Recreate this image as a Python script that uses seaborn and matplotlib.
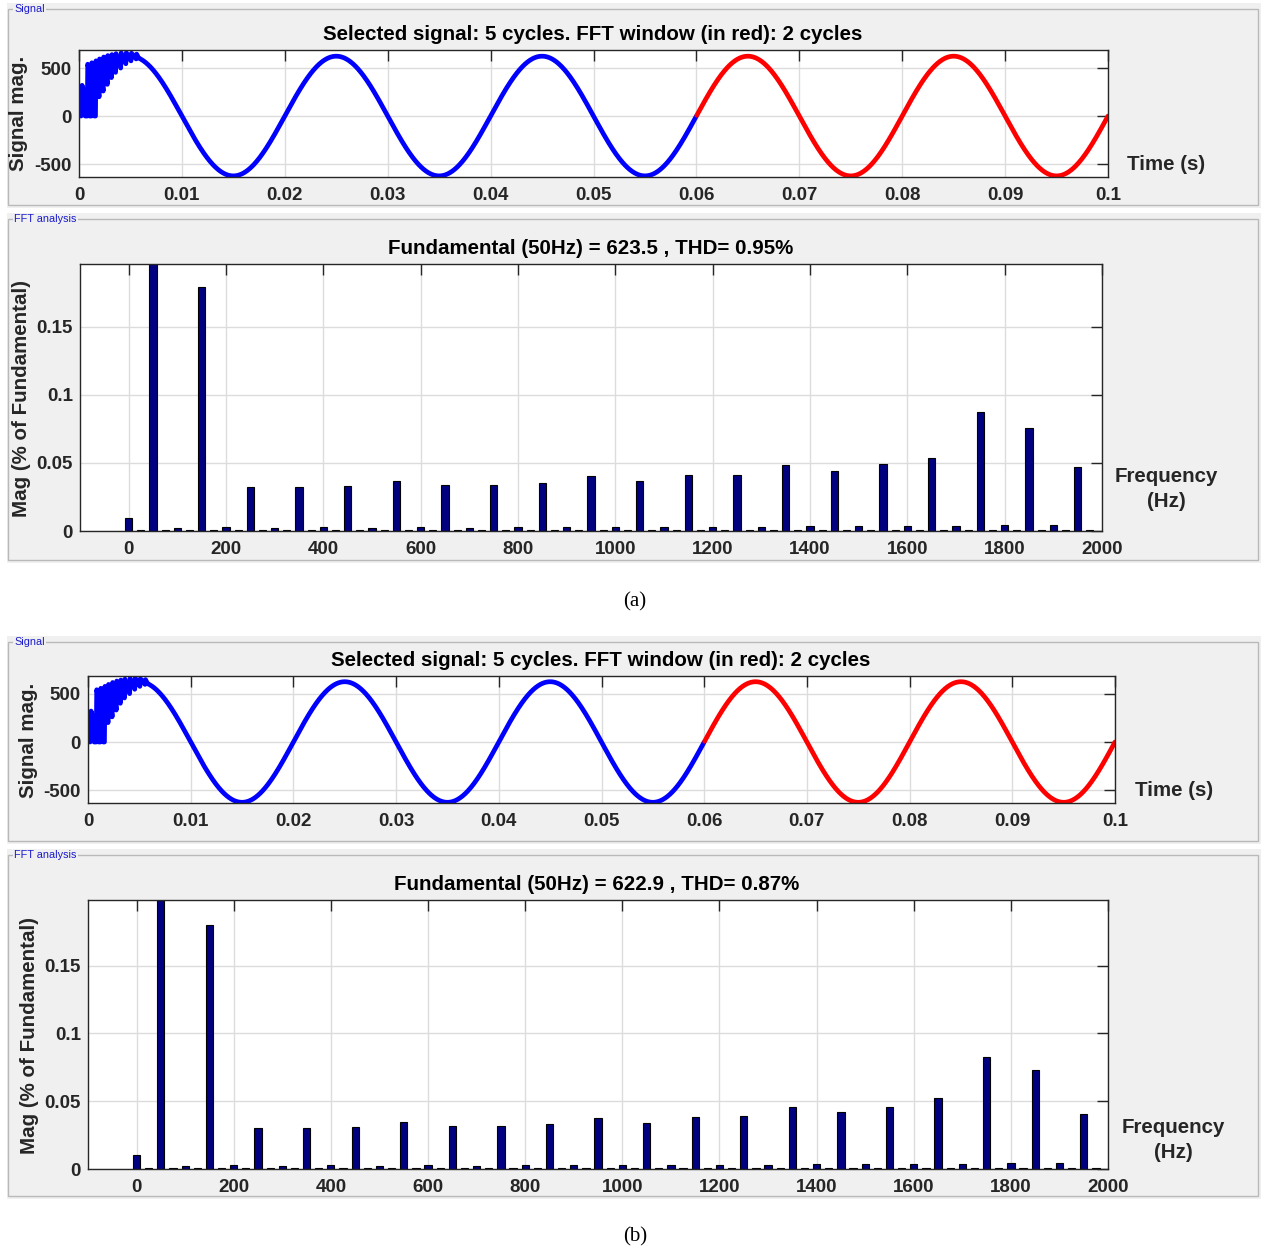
import numpy as np
import pandas as pd
import matplotlib
matplotlib.use("Agg")
import matplotlib.pyplot as plt
from matplotlib.patches import Rectangle
import seaborn as sns

# ---------------- data ----------------
W, H = 1261, 1249

f0 = 50.0
fund_a = 623.5
fund_b = 622.9
thd_a = 0.95
thd_b = 0.87

# start-up transient, sawtooth vertices (time in ms, value)
trans_t_ms = [0.0, 0.1, 0.2, 0.3, 0.5, 0.6, 0.8, 0.85, 1.0, 1.05, 1.2, 1.25,
              1.45, 1.5, 1.6, 1.65, 1.95, 2.0, 2.35, 2.4, 2.75, 2.8, 3.15, 3.2,
              3.55, 3.6, 4.05, 4.1, 4.55, 4.6, 5.05, 5.1, 5.55, 5.6]
trans_v = [0, 100, 0, 320, 240, 0, 0, 540, 470, 0, 0, 555,
           490, 0, 0, 575, 200, 595, 260, 615, 330, 630, 400, 640,
           455, 650, 500, 658, 545, 660, 575, 655, 595, 645]

sig_xticks = [0, 0.01, 0.02, 0.03, 0.04, 0.05, 0.06, 0.07, 0.08, 0.09, 0.1]
sig_xlabels = ["0", "0.01", "0.02", "0.03", "0.04", "0.05", "0.06", "0.07", "0.08", "0.09", "0.1"]
sig_yticks = [-500, 0, 500]
fft_window_start = 0.06

harm_freq = list(range(0, 2000, 50))
interharm_freq = list(range(25, 2000, 50))
harm_a = [0.0096, 100, 0.0022, 0.179, 0.0028, 0.0325, 0.0024, 0.0325, 0.0028, 0.033,
          0.0024, 0.037, 0.0028, 0.034, 0.0024, 0.034, 0.0028, 0.035, 0.003, 0.0404,
          0.003, 0.0368, 0.003, 0.0412, 0.003, 0.041, 0.0032, 0.0485, 0.0035, 0.0439,
          0.0036, 0.0495, 0.0038, 0.0537, 0.004, 0.087, 0.0044, 0.0755, 0.0044, 0.047]
harm_b = [0.0103, 100, 0.0022, 0.180, 0.0028, 0.030, 0.0024, 0.030, 0.0028, 0.031,
          0.0025, 0.0347, 0.0028, 0.0318, 0.0025, 0.0318, 0.0028, 0.033, 0.0027, 0.038,
          0.0027, 0.034, 0.003, 0.0382, 0.0032, 0.039, 0.0032, 0.0456, 0.0036, 0.0419,
          0.0036, 0.0458, 0.0038, 0.0524, 0.004, 0.0827, 0.0044, 0.0729, 0.0044, 0.0408]
interharm_a = [0.0006, 0.0006, 0.0006, 0.0006, 0.0006, 0.0006, 0.0006, 0.0006, 0.0006, 0.0006,
               0.0006, 0.0006, 0.0006, 0.0006, 0.0006, 0.0006, 0.0006, 0.0006, 0.0006, 0.0006,
               0.0006, 0.0006, 0.0006, 0.0006, 0.0006, 0.0006, 0.0006, 0.0006, 0.0006, 0.0006,
               0.0006, 0.0006, 0.0006, 0.0006, 0.0006, 0.0006, 0.0006, 0.0006, 0.0006, 0.0006]
interharm_b = interharm_a

fft_xticks = [0, 200, 400, 600, 800, 1000, 1200, 1400, 1600, 1800, 2000]
fft_yticks = [0, 0.05, 0.1, 0.15]
fft_ylabels = ["0", "0.05", "0.1", "0.15"]

# ---------------- style ----------------
sns.set_theme(style="white")
plt.rcParams["font.family"] = ["Liberation Sans", "DejaVu Sans"]
plt.rcParams["font.weight"] = "bold"
FS = 13.5      # tick labels
FS_T = 14.8    # titles / axis labels
TICKC = "#262626"
PANEL = "#f0f0f0"


def px_rect(x0, y0, x1, y1):
    return [x0 / W, 1 - y1 / H, (x1 - x0) / W, (y1 - y0) / H]


def fx(x):
    return x / W


def fy(y):
    return 1 - y / H


def build_signal(amp):
    t_tr = np.array(trans_t_ms) / 1000.0
    v_tr = np.array(trans_v, dtype=float)
    t_s = np.linspace(0.0058, 0.1, 2000)
    v_s = amp * np.sin(2 * np.pi * f0 * t_s)
    t = np.concatenate([t_tr, t_s])
    v = np.concatenate([v_tr, v_s])
    return pd.DataFrame({"t": t, "v": v})


def panel(fig, y0, y1, label):
    fig.patches.append(Rectangle((fx(7), fy(y1)), fx(W) - fx(7), fy(y0) - fy(y1),
                                 transform=fig.transFigure, facecolor=PANEL,
                                 edgecolor="none", zorder=-10))
    fig.patches.append(Rectangle((fx(8), fy(y1 - 3)), fx(1258) - fx(8), fy(y0 + 6) - fy(y1 - 3),
                                 transform=fig.transFigure, facecolor="none",
                                 edgecolor="#b9b9b9", lw=1.0, zorder=-9))
    fig.text(fx(14), fy(y0 + 6), label, fontsize=7.8, color="#1a1acc", weight="normal",
             ha="left", va="center",
             bbox=dict(facecolor=PANEL, edgecolor="none", pad=1))


def style_axes(ax):
    ax.set_facecolor("white")
    for s in ax.spines.values():
        s.set_visible(True)
        s.set_color(TICKC)
        s.set_linewidth(1.0)
    ax.grid(True, color="#dcdcdc", lw=1.0)
    ax.set_axisbelow(True)
    ax.tick_params(direction="in", top=True, right=True, length=8, width=1,
                   color=TICKC, labelcolor=TICKC, labelsize=FS)
    ax.tick_params(axis="x", pad=7)
    ax.tick_params(axis="y", pad=5)
    for lab in ax.get_xticklabels() + ax.get_yticklabels():
        lab.set_fontweight("bold")


def signal_axes(fig, rect, amp, ylim, title_xy, ylab_xy, time_xy):
    ax = fig.add_axes(rect)
    df = build_signal(amp)
    blue = df[df["t"] <= fft_window_start]
    red = df[df["t"] >= fft_window_start]
    sns.lineplot(data=blue, x="t", y="v", color="#0000ff", lw=3.4, estimator=None,
                 sort=False, ax=ax)
    sns.lineplot(data=red, x="t", y="v", color="#ff0000", lw=3.4, estimator=None,
                 sort=False, ax=ax)
    ax.set_xlim(0, 0.1)
    ax.set_ylim(*ylim)
    ax.set_xticks(sig_xticks)
    ax.set_xticklabels(sig_xlabels)
    ax.set_yticks(sig_yticks)
    ax.set_yticklabels([str(v) for v in sig_yticks])
    ax.set_xlabel("")
    ax.set_ylabel("")
    style_axes(ax)
    fig.text(fx(title_xy[0]), fy(title_xy[1]),
             "Selected signal: 5 cycles. FFT window (in red): 2 cycles",
             fontsize=FS_T, weight="bold", color="black", ha="center", va="center")
    fig.text(fx(ylab_xy[0]), fy(ylab_xy[1]), "Signal mag.", fontsize=FS_T, weight="bold",
             color=TICKC, rotation=90, ha="center", va="center")
    fig.text(fx(time_xy[0]), fy(time_xy[1]), "Time (s)", fontsize=FS_T, weight="bold",
             color=TICKC, ha="left", va="center")
    return ax


def fft_axes(fig, rect, harm, interharm, ylim, fund, thd, title_xy, ylab_xy, freq_xy):
    ax = fig.add_axes(rect)
    df = pd.DataFrame({"freq": harm_freq + interharm_freq, "mag": harm + interharm})
    df = df.sort_values("freq")
    sns.barplot(data=df, x="freq", y="mag", native_scale=True, width=0.6,
                color="#000080", saturation=1, edgecolor="black", linewidth=0.8,
                errorbar=None, ax=ax)
    ax.set_xlim(-100, 2000)
    ax.set_ylim(*ylim)
    ax.set_xticks(fft_xticks)
    ax.set_xticklabels([str(v) for v in fft_xticks])
    ax.set_yticks(fft_yticks)
    ax.set_yticklabels(fft_ylabels)
    ax.set_xlabel("")
    ax.set_ylabel("")
    style_axes(ax)
    fig.text(fx(title_xy[0]), fy(title_xy[1]),
             f"Fundamental (50Hz) = {fund} , THD= {thd:.2f}%",
             fontsize=FS_T, weight="bold", color="black", ha="center", va="center")
    fig.text(fx(ylab_xy[0]), fy(ylab_xy[1]), "Mag (% of Fundamental)", fontsize=FS_T,
             weight="bold", color=TICKC, rotation=90, ha="center", va="center")
    fig.text(fx(freq_xy[0]), fy(freq_xy[1]), "Frequency\n(Hz)", fontsize=FS_T, weight="bold",
             color=TICKC, ha="center", va="center", multialignment="center",
             linespacing=1.4)
    return ax


fig = plt.figure(figsize=(W / 100, H / 100), dpi=100)
fig.patch.set_facecolor("white")

# panel (a)
panel(fig, 3, 208, "Signal")
panel(fig, 213, 563, "FFT analysis")
signal_axes(fig, px_rect(79, 50, 1108, 177), fund_a, (-635, 688),
            (593, 35), (19, 113), (1127, 165))
fft_axes(fig, px_rect(80, 264, 1102, 531), harm_a, interharm_a, (0, 0.196),
         fund_a, thd_a, (591, 248), (22, 398), (1166, 489))
fig.text(fx(635), fy(602), "(a)", fontsize=15, family=["Liberation Serif", "DejaVu Serif"],
         weight="normal", ha="center", va="center", color="black")

# panel (b)
panel(fig, 636, 844, "Signal")
panel(fig, 849, 1199, "FFT analysis")
signal_axes(fig, px_rect(88, 676, 1115, 803), fund_b, (-630, 682),
            (601, 660), (28, 740), (1135, 790))
fft_axes(fig, px_rect(88, 900, 1108, 1169), harm_b, interharm_b, (0, 0.1985),
         fund_b, thd_b, (597, 885), (30, 1035), (1173, 1140))
fig.text(fx(635), fy(1237), "(b)", fontsize=15, family=["Liberation Serif", "DejaVu Serif"],
         weight="normal", ha="center", va="center", color="black")

fig.savefig("out.png", dpi=100)
